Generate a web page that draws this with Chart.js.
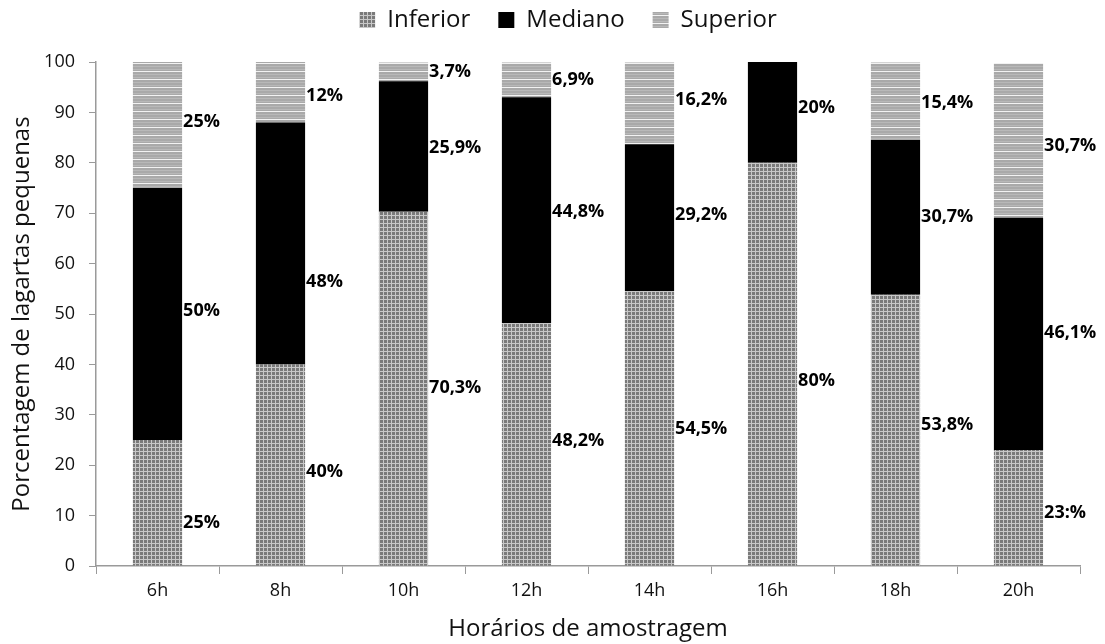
<!DOCTYPE html>
<html><head><meta charset="utf-8">
<script src="https://cdn.jsdelivr.net/npm/chart.js@4.4.1/dist/chart.umd.min.js"></script>
<style>html,body{margin:0;padding:0;background:#fff}#wrap{width:1105px;height:644px}</style>
</head><body><div id="wrap"><canvas id="c" width="1105" height="644"></canvas></div>
<script>
const categories = ['6h','8h','10h','12h','14h','16h','18h','20h'];
const inferior = [25, 40, 70.3, 48.2, 54.5, 80, 53.8, 23];
const mediano  = [50, 48, 25.9, 44.8, 29.2, 20, 30.7, 46.1];
const superior = [25, 12, 3.7, 6.9, 16.2, 0, 15.4, 30.7];
const inferiorLabels = ['25%','40%','70,3%','48,2%','54,5%','80%','53,8%','23:%'];
const medianoLabels  = ['50%','48%','25,9%','44,8%','29,2%','20%','30,7%','46,1%'];
const superiorLabels = ['25%','12%','3,7%','6,9%','16,2%','','15,4%','30,7%'];
// label anchor heights (in % units)
const inferiorLabelAt = [8.5, 18.6, 35.3, 24.8, 27.2, 36.7, 28, 10.5];
const medianoLabelAt  = [50.6, 56.3, 83, 70.2, 69.6, 90.9, 69.2, 46.2];
const superiorLabelAt = [88.1, 93.3, 98, 96.4, 92.5, null, 91.9, 83.3];

function makePattern(kind){
  const c = document.createElement('canvas');
  const ctx = c.getContext('2d');
  if(kind==='grid'){
    c.width=4; c.height=4;
    ctx.fillStyle='#7a7a7a'; ctx.fillRect(0,0,4,4);
    ctx.fillStyle='#c8c8c8'; ctx.fillRect(3,0,1,4); ctx.fillRect(0,3,4,1);
  } else {
    c.width=4; c.height=8;
    ctx.fillStyle='#a9a9a9'; ctx.fillRect(0,0,4,8);
    ctx.fillStyle='#b8b8b8'; ctx.fillRect(0,2,4,1); ctx.fillRect(0,5,4,1);
    ctx.fillStyle='#f2f2f2'; ctx.fillRect(0,7,4,1);
  }
  return document.getElementById('c').getContext('2d').createPattern(c,'repeat');
}
const FONT = '"Open Sans", Lato, sans-serif';
const labelSets = [
  {text: inferiorLabels, at: inferiorLabelAt},
  {text: medianoLabels, at: medianoLabelAt},
  {text: superiorLabels, at: superiorLabelAt}
];
const labelPlugin = {
  id:'segLabels',
  afterDatasetsDraw(chart){
    const ctx = chart.ctx, y = chart.scales.y;
    ctx.save();
    ctx.font = 'bold 18px ' + FONT;
    ctx.fillStyle = '#000';
    ctx.textAlign = 'left';
    ctx.textBaseline = 'middle';
    labelSets.forEach((set, di) => {
      const meta = chart.getDatasetMeta(di);
      meta.data.forEach((bar, j) => {
        const t = set.text[j];
        if(!t || set.at[j]==null) return;
        ctx.fillText(t, bar.x + bar.width/2 + 1, y.getPixelForValue(set.at[j]));
      });
    });
    ctx.restore();
  }
};
const legendFitPlugin = {
  id:'legendFit',
  afterInit(chart){
    const lg = chart.legend;
    if(!lg) return;
    const orig = lg.fit;
    lg.fit = function(){ orig.call(this); this.height = 82; };
    const origDraw = lg.draw;
    lg.draw = function(){
      const ctx = this.ctx; ctx.save(); ctx.translate(28, 0);
      origDraw.call(this); ctx.restore();
    };
  }
};
new Chart(document.getElementById('c'), {
  type:'bar',
  data:{
    labels: categories,
    datasets:[
      {label:'Inferior', data: inferior, backgroundColor: makePattern('grid'), borderWidth:0},
      {label:'Mediano', data: mediano, backgroundColor: '#000000', borderWidth:0},
      {label:'Superior', data: superior, backgroundColor: makePattern('lines'), borderWidth:0}
    ]
  },
  options:{
    responsive:false, animation:false,
    layout:{padding:{left:0,right:25,top:-20,bottom:0}},
    datasets:{bar:{categoryPercentage:1, barPercentage:0.4}},
    plugins:{
      legend:{position:'top', labels:{font:{family:FONT,size:24}, color:'#111', boxWidth:16, boxHeight:16, padding:28}},
      tooltip:{enabled:false}
    },
    scales:{
      x:{stacked:true,
        afterFit(s){ s.height = 78; },
        grid:{display:true, drawOnChartArea:false, drawTicks:true, tickLength:8, color:'#9a9a9a', offset:true},
        border:{color:'#9a9a9a', width:1.5},
        ticks:{font:{family:FONT,size:18}, color:'#111', padding:6, maxRotation:0},
        title:{display:true, text:'Horários de amostragem', font:{family:FONT,size:24}, color:'#111', padding:{top:10,bottom:0}}
      },
      y:{stacked:true, min:0, max:100,
        afterFit(s){ s.width = 96; },
        grid:{display:true, drawOnChartArea:false, drawTicks:true, tickLength:7, color:'#9a9a9a'},
        border:{color:'#9a9a9a', width:1.5},
        ticks:{stepSize:10, font:{family:FONT,size:18}, color:'#111', padding:14},
        title:{display:true, text:'Porcentagem de lagartas pequenas', font:{family:FONT,size:24}, color:'#111', padding:{top:8,bottom:4}}
      }
    }
  },
  plugins:[labelPlugin, legendFitPlugin]
});
</script></body></html>
